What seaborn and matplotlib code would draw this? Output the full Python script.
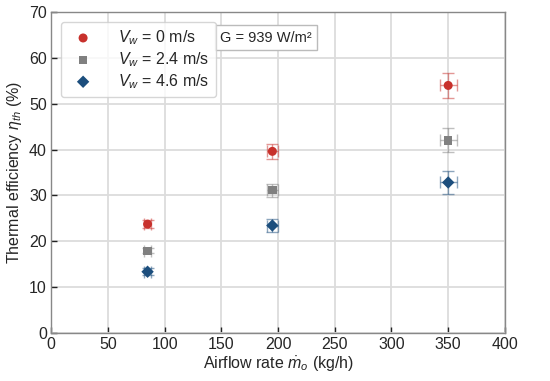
import numpy as np
import pandas as pd
from matplotlib import pyplot as plt
import seaborn as sns

# Data
flow = [85, 195, 350]
eff_0 = [23.7, 39.6, 54.0]
eff_24 = [17.9, 31.1, 42.0]
eff_46 = [13.3, 23.4, 32.8]
yerr_0 = [0.8, 1.6, 2.7]
yerr_24 = [0.6, 1.4, 2.6]
yerr_46 = [0.8, 1.4, 2.6]
xerr = [3, 5, 7.5]

labels = ['$V_w$ = 0 m/s', '$V_w$ = 2.4 m/s', '$V_w$ = 4.6 m/s']
colors = ['#c8312c', '#808080', '#1c4e7d']
markers = ['o', 's', 'D']
sizes = [42, 36, 40]

sns.set_theme(style='whitegrid')
plt.rcParams['font.family'] = ['Liberation Sans', 'DejaVu Sans']
plt.rcParams['mathtext.fontset'] = 'custom'
plt.rcParams['mathtext.it'] = 'Liberation Sans:italic'
plt.rcParams['mathtext.rm'] = 'Liberation Sans'

fig = plt.figure(figsize=(5.5, 3.81), dpi=100)
ax = fig.add_axes([0.093, 0.127, 0.825, 0.841])

series = [eff_0, eff_24, eff_46]
errs = [yerr_0, yerr_24, yerr_46]
for vals, err, lab, c, m, s in zip(series, errs, labels, colors, markers, sizes):
    ax.errorbar(flow, vals, yerr=err, xerr=xerr, fmt='none', ecolor=c, alpha=0.5,
                elinewidth=1, capsize=4, capthick=1, zorder=2)
    sns.scatterplot(x=flow, y=vals, color=c, marker=m, s=s, edgecolor='none',
                    label=lab, ax=ax, zorder=3)

ax.set_xlim(0, 400)
ax.set_ylim(0, 70)
ax.set_xticks(np.arange(0, 401, 50))
ax.set_yticks(np.arange(0, 71, 10))
ax.grid(True, color='#dcdcdc', linewidth=1.3)
for sp in ax.spines.values():
    sp.set_color('#888888')
    sp.set_linewidth(1)
ax.tick_params(bottom=True, left=True, direction='in', length=4, width=1,
               color='#222222', labelsize=11.5, pad=3)

ax.set_xlabel('Airflow rate $\\dot{m}_o$ (kg/h)', fontsize=11.5, labelpad=2)
ax.set_ylabel('Thermal efficiency $\\eta_{th}$ (%)', fontsize=11.5, labelpad=4)

leg = ax.legend(loc='upper left', fontsize=11.5, frameon=True, edgecolor='#cccccc',
                handletextpad=1.2, borderaxespad=0.6, labelspacing=0.2)
leg.get_frame().set_linewidth(1)

ax.text(149, 66.0, 'G = 939 W/m²', fontsize=10.5, va='top', ha='left',
        bbox=dict(boxstyle='square,pad=0.35', facecolor='white', edgecolor='#bbbbbb', linewidth=1))

plt.savefig('out.png', dpi=100)
